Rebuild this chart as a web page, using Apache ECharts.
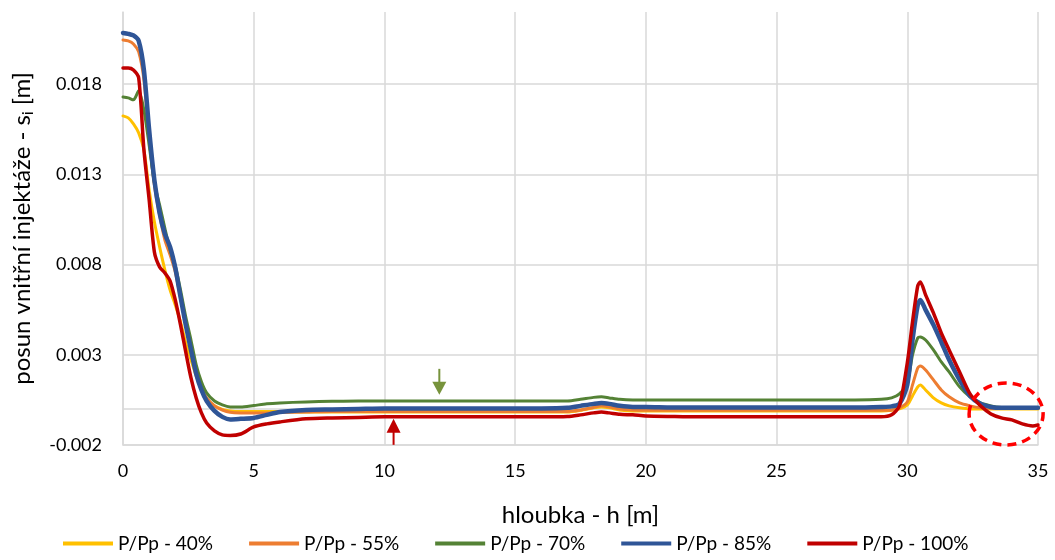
<!DOCTYPE html>
<html>
<head>
<meta charset="utf-8">
<script src="https://cdn.jsdelivr.net/npm/echarts@6/dist/echarts.min.js"></script>
<style>
  html, body { margin: 0; padding: 0; background: #ffffff; }
  #chart { width: 1055px; height: 560px; }
</style>
</head>
<body>
<div id="chart"></div>
<script>
// Depth along the injection column [m]
const depth = [0, 0.2, 0.4, 0.6, 0.8, 1.0, 1.2, 1.4, 1.6, 1.8,
  2.0, 2.2, 2.4, 2.6, 2.8, 3.0, 3.2, 3.5, 3.8, 4.1,
  4.5, 5.0, 5.5, 6.0, 7.0, 8.0, 9.0, 10, 11, 12,
  13, 14, 15, 16, 17, 17.5, 18, 18.3, 18.6, 19,
  19.5, 20, 21, 22, 23, 24, 25, 26, 27, 28,
  29, 29.4, 29.7, 30.0, 30.2, 30.4, 30.5, 30.7, 31.0, 31.3,
  31.6, 32.0, 32.4, 32.8, 33.2, 33.6, 34.0, 34.4, 34.8, 35];

// Displacement of the inner grout s_i [m] for each load level P/Pp
const p40 = [0.01624, 0.01613, 0.01580, 0.01530, 0.01436, 0.01214, 0.01037, 0.00898, 0.00771, 0.00660,
  0.00576, 0.00482, 0.00366, 0.00272, 0.00183, 0.00105, 0.00055, 0.00017, -0.00003, -0.00011,
  -0.00014, -0.00014, -0.00014, -0.00014, -0.00017, -0.00017, -0.00017, -0.00017, -0.00017, -0.00017,
  -0.00017, -0.00017, -0.00017, -0.00017, -0.00017, -0.00008, 0.00006, 0.00011, 0.00006, -0.00006,
  -0.00011, -0.00011, -0.00011, -0.00011, -0.00011, -0.00011, -0.00011, -0.00011, -0.00011, -0.00011,
  -0.00011, -0.00008, 0.00000, 0.00022, 0.00072, 0.00122, 0.00133, 0.00105, 0.00061, 0.00033,
  0.00017, 0.00006, 0.00000, 0.00000, 0.00000, 0.00000, 0.00000, 0.00000, 0.00000, 0.00000];

const p55 = [0.02045, 0.02040, 0.02023, 0.01979, 0.01824, 0.01502, 0.01242, 0.01075, 0.00937, 0.00854,
  0.00759, 0.00615, 0.00477, 0.00338, 0.00205, 0.00116, 0.00061, 0.00017, -0.00006, -0.00019,
  -0.00022, -0.00022, -0.00022, -0.00019, -0.00017, -0.00014, -0.00014, -0.00014, -0.00014, -0.00014,
  -0.00014, -0.00014, -0.00014, -0.00014, -0.00014, -0.00006, 0.00008, 0.00017, 0.00011, 0.00000,
  -0.00006, -0.00008, -0.00008, -0.00008, -0.00008, -0.00008, -0.00008, -0.00008, -0.00008, -0.00008,
  -0.00008, -0.00006, 0.00006, 0.00039, 0.00133, 0.00227, 0.00238, 0.00216, 0.00161, 0.00105,
  0.00067, 0.00033, 0.00017, 0.00006, 0.00003, 0.00003, 0.00003, 0.00003, 0.00003, 0.00003];

const p70 = [0.01729, 0.01724, 0.01713, 0.01763, 0.01657, 0.01463, 0.01253, 0.01131, 0.01003, 0.00881,
  0.00793, 0.00660, 0.00510, 0.00382, 0.00244, 0.00150, 0.00089, 0.00044, 0.00022, 0.00011,
  0.00011, 0.00019, 0.00028, 0.00033, 0.00039, 0.00042, 0.00044, 0.00044, 0.00044, 0.00044,
  0.00044, 0.00044, 0.00044, 0.00044, 0.00044, 0.00053, 0.00064, 0.00067, 0.00061, 0.00053,
  0.00050, 0.00050, 0.00050, 0.00050, 0.00050, 0.00050, 0.00050, 0.00050, 0.00050, 0.00050,
  0.00053, 0.00061, 0.00083, 0.00144, 0.00299, 0.00394, 0.00399, 0.00382, 0.00327, 0.00261,
  0.00205, 0.00122, 0.00067, 0.00033, 0.00017, 0.00008, 0.00006, 0.00006, 0.00006, 0.00006];

const p85 = [0.02084, 0.02079, 0.02070, 0.02040, 0.01879, 0.01547, 0.01269, 0.01086, 0.00970, 0.00898,
  0.00782, 0.00621, 0.00466, 0.00327, 0.00194, 0.00105, 0.00044, -0.00011, -0.00044, -0.00058,
  -0.00055, -0.00050, -0.00033, -0.00017, -0.00006, -0.00003, 0.00000, 0.00003, 0.00003, 0.00003,
  0.00003, 0.00003, 0.00003, 0.00003, 0.00006, 0.00017, 0.00028, 0.00033, 0.00028, 0.00017,
  0.00011, 0.00011, 0.00008, 0.00008, 0.00008, 0.00008, 0.00008, 0.00008, 0.00008, 0.00008,
  0.00011, 0.00014, 0.00028, 0.00133, 0.00382, 0.00576, 0.00604, 0.00549, 0.00466, 0.00371,
  0.00272, 0.00161, 0.00072, 0.00028, 0.00011, 0.00006, 0.00006, 0.00006, 0.00006, 0.00006];

const p100 = [0.01890, 0.01890, 0.01879, 0.01835, 0.01436, 0.01160, 0.00870, 0.00787, 0.00754, 0.00710,
  0.00604, 0.00466, 0.00316, 0.00172, 0.00061, -0.00022, -0.00078, -0.00122, -0.00144, -0.00147,
  -0.00139, -0.00100, -0.00083, -0.00072, -0.00055, -0.00050, -0.00047, -0.00044, -0.00044, -0.00044,
  -0.00044, -0.00044, -0.00044, -0.00044, -0.00042, -0.00033, -0.00022, -0.00017, -0.00022, -0.00030,
  -0.00033, -0.00039, -0.00042, -0.00044, -0.00044, -0.00044, -0.00044, -0.00044, -0.00044, -0.00044,
  -0.00044, -0.00033, 0.00017, 0.00255, 0.00482, 0.00682, 0.00704, 0.00632, 0.00532, 0.00421,
  0.00327, 0.00205, 0.00083, 0.00017, -0.00028, -0.00050, -0.00061, -0.00083, -0.00094, -0.00089];

const seriesNames = ['P/Pp - 40%', 'P/Pp - 55%', 'P/Pp - 70%', 'P/Pp - 85%', 'P/Pp - 100%'];
const seriesValues = [p40, p55, p70, p85, p100];
const seriesColors = ['#FFC000', '#ED7D31', '#548235', '#2F5597', '#C00000'];
const seriesWidths = [3, 3, 3, 4.5, 3.5];

// Annotation anchors in data units [depth, displacement]
const greenArrowTip = [12.1, 0.00078];
const redArrowTip = [10.35, -0.00055];
const tailHighlight = [33.78, -0.00028];

const FONT = 'Lato, "Open Sans", sans-serif';
const GRID_COLOR = '#D9D9D9';

const chart = echarts.init(document.getElementById('chart'), null, { renderer: 'canvas' });

const series = seriesNames.map((name, k) => ({
  name: name,
  type: 'line',
  data: depth.map((h, i) => [h, seriesValues[k][i]]),
  symbol: 'none',
  smooth: 0.25,
  lineStyle: { color: seriesColors[k], width: seriesWidths[k], join: 'round', cap: 'round' },
  itemStyle: { color: seriesColors[k] },
  z: 2 + k,
  markLine: k === 0 ? {
    silent: true,
    symbol: 'none',
    label: { show: false },
    lineStyle: { color: GRID_COLOR, width: 1.5, type: 'solid' },
    data: [{ yAxis: 0 }],
    z: 1
  } : undefined
}));

chart.setOption({
  animation: false,
  textStyle: { fontFamily: FONT },
  grid: { left: 120, right: 17, top: 12, bottom: 115, containLabel: false },
  legend: {
    data: seriesNames,
    bottom: 2,
    left: 58,
    icon: 'rect',
    itemWidth: 50,
    itemHeight: 4,
    itemGap: 36,
    textStyle: { fontFamily: FONT, fontSize: 19, color: '#000' }
  },
  xAxis: {
    type: 'value',
    min: 0,
    max: 35,
    interval: 5,
    name: 'hloubka - h [m]',
    nameLocation: 'middle',
    nameGap: 58,
    nameTextStyle: { fontFamily: FONT, fontSize: 24, color: '#000' },
    axisLine: { onZero: false, lineStyle: { color: GRID_COLOR, width: 1.5 } },
    axisTick: { show: false },
    axisLabel: { fontFamily: FONT, fontSize: 18, color: '#000', margin: 17 },
    splitLine: { show: true, lineStyle: { color: GRID_COLOR, width: 1.5 } }
  },
  yAxis: {
    type: 'value',
    min: -0.002,
    max: 0.022,
    interval: 0.005,
    name: '{a|posun vnitřní injektáže - s}{sub|i}{a| [m]}',
    nameLocation: 'middle',
    nameGap: 86,
    nameTextStyle: {
      fontFamily: FONT, fontSize: 24, color: '#000',
      rich: {
        a: { fontFamily: FONT, fontSize: 24, color: '#000', lineHeight: 30 },
        sub: { fontFamily: FONT, fontSize: 15, color: '#000', lineHeight: 30, padding: [13, 0, 0, 0] }
      }
    },
    axisLine: { show: true, lineStyle: { color: GRID_COLOR, width: 1.5 } },
    axisTick: { show: false },
    axisLabel: {
      fontFamily: FONT, fontSize: 18, color: '#000', margin: 21,
      showMaxLabel: false,
      formatter: v => v.toFixed(3)
    },
    splitLine: { show: true, showMaxLine: false, lineStyle: { color: GRID_COLOR, width: 1.5 } }
  },
  series: series
});

// Annotations: two arrows pointing at the levels and a dashed ring around the tail
function drawAnnotations() {
  const g = chart.convertToPixel({ gridIndex: 0 }, greenArrowTip);
  const r = chart.convertToPixel({ gridIndex: 0 }, redArrowTip);
  const c = chart.convertToPixel({ gridIndex: 0 }, tailHighlight);
  const green = '#77933C';
  const red = '#C00000';
  chart.setOption({
    graphic: [
      { type: 'line', shape: { x1: g[0], y1: g[1] - 26, x2: g[0], y2: g[1] - 12 },
        style: { stroke: green, lineWidth: 2 }, z: 20 },
      { type: 'polygon', shape: { points: [[g[0] - 7, g[1] - 13], [g[0] + 7, g[1] - 13], [g[0], g[1]]] },
        style: { fill: green }, z: 20 },
      { type: 'line', shape: { x1: r[0], y1: r[1] + 12, x2: r[0], y2: r[1] + 26 },
        style: { stroke: red, lineWidth: 2 }, z: 20 },
      { type: 'polygon', shape: { points: [[r[0] - 7, r[1] + 14], [r[0] + 7, r[1] + 14], [r[0], r[1]]] },
        style: { fill: red }, z: 20 },
      { type: 'ellipse', shape: { cx: c[0], cy: c[1], rx: 37, ry: 31 },
        style: { fill: null, stroke: '#FF0000', lineWidth: 3.5, lineDash: [9, 6] }, z: 20 }
    ]
  });
}
drawAnnotations();
</script>
</body>
</html>
